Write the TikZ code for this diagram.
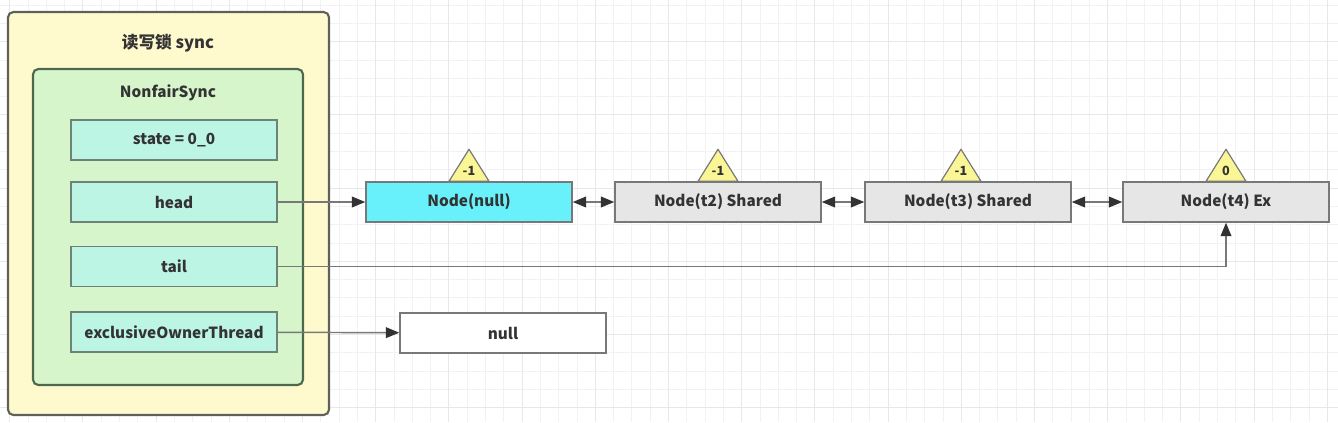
\documentclass[tikz,border=0pt]{standalone}
\usepackage{fontspec}
\setmainfont{Noto Sans CJK SC}
\usetikzlibrary{arrows.meta,calc}

\definecolor{gridminor}{RGB}{242,242,242}
\definecolor{gridmajor}{RGB}{232,232,232}
\definecolor{syncfill}{RGB}{255,250,206}
\definecolor{syncline}{RGB}{96,96,90}
\definecolor{nffill}{RGB}{214,245,202}
\definecolor{nfline}{RGB}{78,104,78}
\definecolor{fieldfill}{RGB}{188,245,228}
\definecolor{fieldline}{RGB}{110,130,120}
\definecolor{headfill}{RGB}{104,241,251}
\definecolor{qfill}{RGB}{230,230,230}
\definecolor{qline}{RGB}{120,120,120}
\definecolor{tipfill}{RGB}{50,50,50}
\definecolor{flagfill}{RGB}{250,246,150}
\definecolor{txt}{RGB}{51,51,51}

\tikzset{every picture/.style={line width=0.75pt}}
\tikzset{
	field/.style={draw=fieldline, fill=fieldfill, line width=1.1pt, minimum width=154.5pt, minimum height=30pt, inner sep=0pt, text=txt, font=\bfseries\fontsize{11.5}{13}\selectfont},
	qnode/.style={field, draw=qline, fill=qfill},
	qhead/.style={qnode, fill=headfill},
	valbox/.style={qnode, fill=white},
	title/.style={text=txt, font=\bfseries\fontsize{12.5}{15}\selectfont},
	flag/.style={draw=qline, fill=flagfill, line width=0.9pt, line join=round},
	flagtext/.style={text=txt, inner sep=0pt, font=\bfseries\fontsize{9.5}{11}\selectfont},
	link/.style={draw=qline, line width=1.1pt, -{Triangle[length=10pt,width=8pt,color=tipfill]}},
	dlink/.style={draw=qline, line width=1.1pt, {Triangle[length=10pt,width=8pt,color=tipfill]}-{Triangle[length=10pt,width=8pt,color=tipfill]}}
}

\begin{document}
\begin{tikzpicture}[x=0.75pt,y=0.75pt,yscale=-1,xscale=1]
	\useasboundingbox (0,0) rectangle (1338,422);

	%Grid
	\foreach \i in {0,...,72} \draw[gridminor, line width=0.6pt] (9.6+\i*18.3,0) -- (9.6+\i*18.3,422);
	\foreach \i in {0,...,23} \draw[gridminor, line width=0.6pt] (0,5+\i*18.3) -- (1338,5+\i*18.3);
	\foreach \i in {0,4,...,72} \draw[gridmajor, line width=0.7pt] (9.6+\i*18.3,0) -- (9.6+\i*18.3,422);
	\foreach \i in {2,6,...,22} \draw[gridmajor, line width=0.7pt] (0,5+\i*18.3) -- (1338,5+\i*18.3);

	%Shape: Rectangle [sync]
	\draw[draw=syncline, fill=syncfill, line width=1.6pt, rounded corners=4pt] (8,12) rectangle (329,415);
	% Text Node
	\node[title] (synctitle) at (168,43) {读写锁 sync};
	%Shape: Rectangle [NonfairSync]
	\draw[draw=nfline, fill=nffill, line width=1.6pt, rounded corners=4pt] (33,69) rectangle (303,385);
	% Text Node
	\node[title, font=\bfseries\fontsize{11.5}{13}\selectfont] (nftitle) at (168,93) {NonfairSync};

	%Fields
	\node[field] (fstate) at (174,140) {state = 0\_0};
	\node[field] (fhead) at (174,202) {head};
	\node[field] (ftail) at (174,266.5) {tail};
	\node[field] (fowner) at (174,332) {exclusiveOwnerThread};

	%Queue
	\node[qhead] (qnull) at (469,202) {Node(null)};
	\node[qnode] (qt2) at (718,202) {Node(t2) Shared};
	\node[qnode] (qt3) at (968,202) {Node(t3) Shared};
	\node[qnode] (qt4) at (1226,202) {Node(t4) Ex};
	\node[valbox] (vnull) at (503,333) {null};

	%Wait status flags
	\foreach \q/\w/\dx in {qnull/-1/0, qt2/-1/0, qt3/-1/-7, qt4/0/0}{
		\draw[flag] ($(\q.north)+(\dx-20,0)$) -- ($(\q.north)+(\dx,-32)$) -- ($(\q.north)+(\dx+20,0)$) -- cycle;
		\node[flagtext] (w\q) at ($(\q.north)+(\dx,-10)$) {\w};
	}

	%Straight Lines
	\draw[link] (fhead) -- (qnull);
	\draw[dlink] (qnull) -- (qt2);
	\draw[dlink] (qt2) -- (qt3);
	\draw[dlink] (qt3) -- (qt4);
	\draw[link] (ftail) -| (qt4);
	\draw[link] (fowner) -- (vnull);

\end{tikzpicture}
\end{document}
